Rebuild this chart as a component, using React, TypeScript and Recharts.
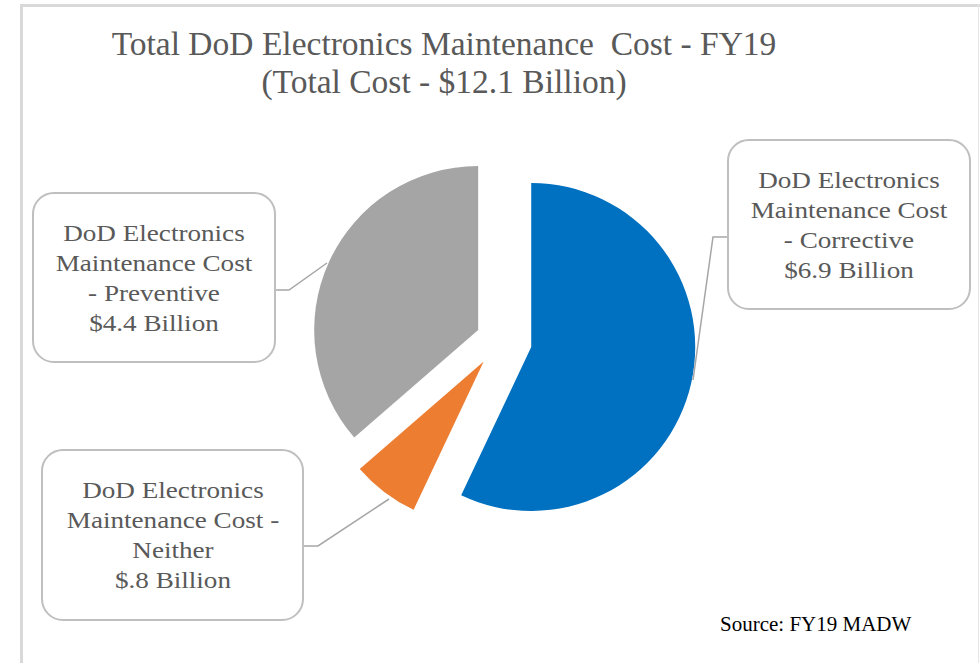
import { Cell, Pie, PieChart } from "recharts";

const categories = ["Corrective", "Neither", "Preventive"];
const costs = [6.9, 0.8, 4.4];
const valueLabels = ["$6.9 Billion", "$.8 Billion", "$4.4 Billion"];

const COLORS = ["#0070C0", "#ED7D31", "#A5A5A5"];
const EXPLODE = [32, 27, 24];
// chart margin is 5px, so this is the pie centre in page px minus 5
const CENTER = { x: 495, y: 335 };
const RADIUS = 164;

const FONT = '"Liberation Serif", "Times New Roman", serif';
const INK = "#595959";
const LINE = "#A6A6A6";

const data = categories.map((name, i) => ({ name, value: costs[i] }));
const total = costs.reduce((a, b) => a + b, 0);

function sliceCenter(i: number) {
  const before = costs.slice(0, i).reduce((a, b) => a + b, 0);
  const mid = ((90 - ((before + costs[i] / 2) / total) * 360) * Math.PI) / 180;
  return {
    x: CENTER.x + EXPLODE[i] * Math.cos(mid),
    y: CENTER.y - EXPLODE[i] * Math.sin(mid),
  };
}

function LabelBox({
  left,
  top,
  width,
  height,
  lines,
}: {
  left: number;
  top: number;
  width: number;
  height: number;
  lines: string[];
}) {
  return (
    <div
      style={{
        position: "absolute",
        left,
        top,
        width,
        height,
        boxSizing: "border-box",
        border: "2px solid #BFBFBF",
        borderRadius: 22,
        background: "#fff",
        display: "flex",
        alignItems: "center",
        justifyContent: "center",
      }}
    >
      <div
        style={{
          fontFamily: FONT,
          fontSize: 24,
          lineHeight: "30px",
          color: INK,
          textAlign: "center",
          whiteSpace: "nowrap",
          transform: "scaleX(1.13)",
        }}
      >
        {lines.map((l, k) => (
          <div key={k}>{l}</div>
        ))}
      </div>
    </div>
  );
}

export default function App() {
  return (
    <div
      style={{
        position: "absolute",
        left: 0,
        top: 0,
        width: 980,
        height: 663,
        background: "#fff",
        overflow: "hidden",
      }}
    >
      {/* frame */}
      <div style={{ position: "absolute", left: 20, top: 4, width: 960, height: 3, background: "#D9D9D9" }} />
      <div style={{ position: "absolute", left: 20, top: 4, width: 3, height: 659, background: "#D9D9D9" }} />
      <div style={{ position: "absolute", left: 978, top: 4, width: 1, height: 659, background: "#E6E6E6" }} />

      <div
        style={{
          position: "absolute",
          left: 244,
          top: 25,
          width: 400,
          textAlign: "center",
          fontFamily: FONT,
          fontSize: 33.5,
          lineHeight: "38px",
          color: INK,
          whiteSpace: "nowrap",
          display: "flex",
          flexDirection: "column",
          alignItems: "center",
        }}
      >
        <div>Total DoD Electronics Maintenance&nbsp; Cost - FY19</div>
        <div>(Total Cost - $12.1 Billion)</div>
      </div>

      <div style={{ position: "absolute", left: 0, top: 0 }}>
        <PieChart width={980} height={663}>
          {categories.map((c, i) => {
            const p = sliceCenter(i);
            return (
              <Pie
                key={c}
                data={data}
                dataKey="value"
                nameKey="name"
                cx={p.x}
                cy={p.y}
                outerRadius={RADIUS}
                startAngle={90}
                endAngle={-270}
                stroke="none"
                isAnimationActive={false}
              >
                {data.map((d, j) => (
                  <Cell key={d.name} fill={j === i ? COLORS[i] : "none"} />
                ))}
              </Pie>
            );
          })}
        </PieChart>
      </div>

      <svg width={980} height={663} style={{ position: "absolute", left: 0, top: 0, pointerEvents: "none" }}>
        <polyline points="275,290 289,290 327,263" fill="none" stroke={LINE} strokeWidth={1.5} />
        <polyline points="727,237 713,237 693,380" fill="none" stroke={LINE} strokeWidth={1.5} />
        <polyline points="303,546 318,546 389,499" fill="none" stroke={LINE} strokeWidth={1.5} />
      </svg>

      <LabelBox
        left={32}
        top={192}
        width={244}
        height={171}
        lines={["DoD Electronics", "Maintenance Cost", "- " + categories[2], valueLabels[2]]}
      />
      <LabelBox
        left={727}
        top={139}
        width={244}
        height={171}
        lines={["DoD Electronics", "Maintenance Cost", "- " + categories[0], valueLabels[0]]}
      />
      <LabelBox
        left={41}
        top={449}
        width={263}
        height={172}
        lines={["DoD Electronics", "Maintenance Cost -", categories[1], valueLabels[1]]}
      />

      <div
        style={{
          position: "absolute",
          left: 720,
          top: 612,
          fontFamily: FONT,
          fontSize: 21,
          color: "#000",
          whiteSpace: "nowrap",
        }}
      >
        Source: FY19 MADW
      </div>
    </div>
  );
}
